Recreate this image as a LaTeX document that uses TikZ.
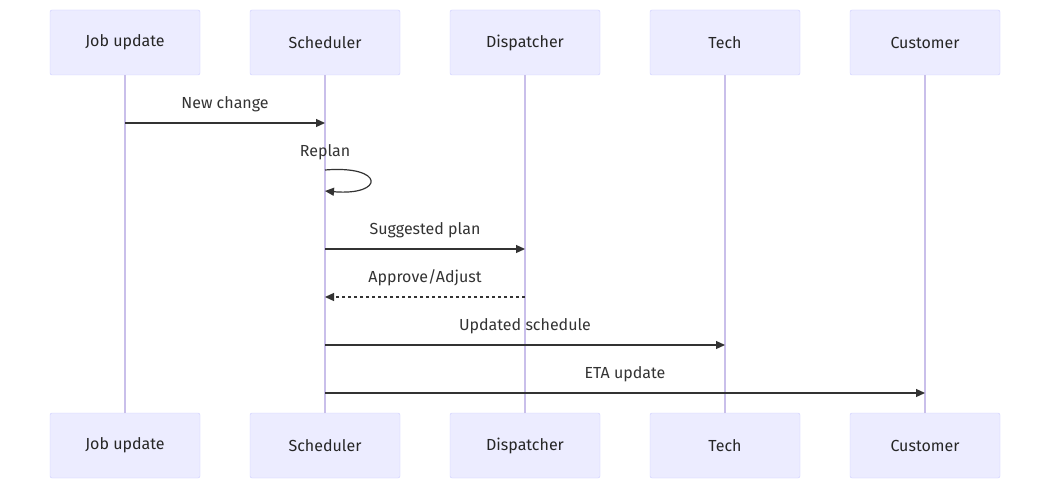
\documentclass[tikz,border=0pt]{standalone}
\usepackage{fontspec}
\setmainfont{Fira Sans}
\usetikzlibrary{arrows.meta,positioning}
\definecolor{actorfill}{HTML}{ECECFF}
\definecolor{actorline}{HTML}{CCCCFF}
\definecolor{lifeline}{HTML}{C9BFEA}
\definecolor{msgline}{HTML}{333333}

\begin{document}
\begin{tikzpicture}[
    x=1pt, y=-1pt,
    actor/.style={rectangle, draw=actorline, fill=actorfill, rounded corners=2pt, minimum width=150pt, minimum height=65pt, font=\fontsize{16}{19}\selectfont, text=black!85},
    life/.style={draw=lifeline, line width=1.3pt},
    msg/.style={-{Triangle[length=9pt,width=8pt]}, draw=msgline, line width=1.2pt},
    reply/.style={msg, dashed, dash pattern=on 3pt off 3pt},
    msglabel/.style={font=\fontsize{16}{19}\selectfont, text=black!80, inner sep=0pt}
]
\useasboundingbox (0,0) rectangle (1050,489);

% Actors (top)
\node[actor] (job_top) at (125,42.5) {Job update};
\node[actor] (sched_top) at (325,42.5) {Scheduler};
\node[actor] (disp_top) at (525,42.5) {Dispatcher};
\node[actor] (tech_top) at (725,42.5) {Tech};
\node[actor] (cust_top) at (925,42.5) {Customer};

% Actors (bottom)
\node[actor] (job_bot) at (125,445.5) {Job update};
\node[actor] (sched_bot) at (325,445.5) {Scheduler};
\node[actor] (disp_bot) at (525,445.5) {Dispatcher};
\node[actor] (tech_bot) at (725,445.5) {Tech};
\node[actor] (cust_bot) at (925,445.5) {Customer};

% Lifelines
\draw[life] (job_top) -- (job_bot);
\draw[life] (sched_top) -- (sched_bot);
\draw[life] (disp_top) -- (disp_bot);
\draw[life] (tech_top) -- (tech_bot);
\draw[life] (cust_top) -- (cust_bot);

% Message anchors
\coordinate (job_m1) at (125,123);
\coordinate (sched_m1) at (325,123);
\coordinate (sched_m2a) at (325,170);
\coordinate (sched_m2b) at (325,191);
\coordinate (sched_m3) at (325,249);
\coordinate (disp_m3) at (525,249);
\coordinate (sched_m4) at (325,297);
\coordinate (disp_m4) at (525,297);
\coordinate (sched_m5) at (325,345);
\coordinate (tech_m5) at (725,345);
\coordinate (sched_m6) at (325,393);
\coordinate (cust_m6) at (925,393);

% Messages
\draw[msg] (job_m1) -- (sched_m1);
\node[msglabel] (l1) at (225,104) {New change};

\draw[msg] (sched_m2a) .. controls (385,165) and (385,196) .. (sched_m2b);
\node[msglabel] (l2) at (325,152) {Replan};

\draw[msg] (sched_m3) -- (disp_m3);
\node[msglabel] (l3) at (425,230) {Suggested plan};

\draw[reply] (disp_m4) -- (sched_m4);
\node[msglabel] (l4) at (425,278) {Approve/Adjust};

\draw[msg] (sched_m5) -- (tech_m5);
\node[msglabel] (l5) at (525,326) {Updated schedule};

\draw[msg] (sched_m6) -- (cust_m6);
\node[msglabel] (l6) at (625,374) {ETA update};

\end{tikzpicture}
\end{document}
